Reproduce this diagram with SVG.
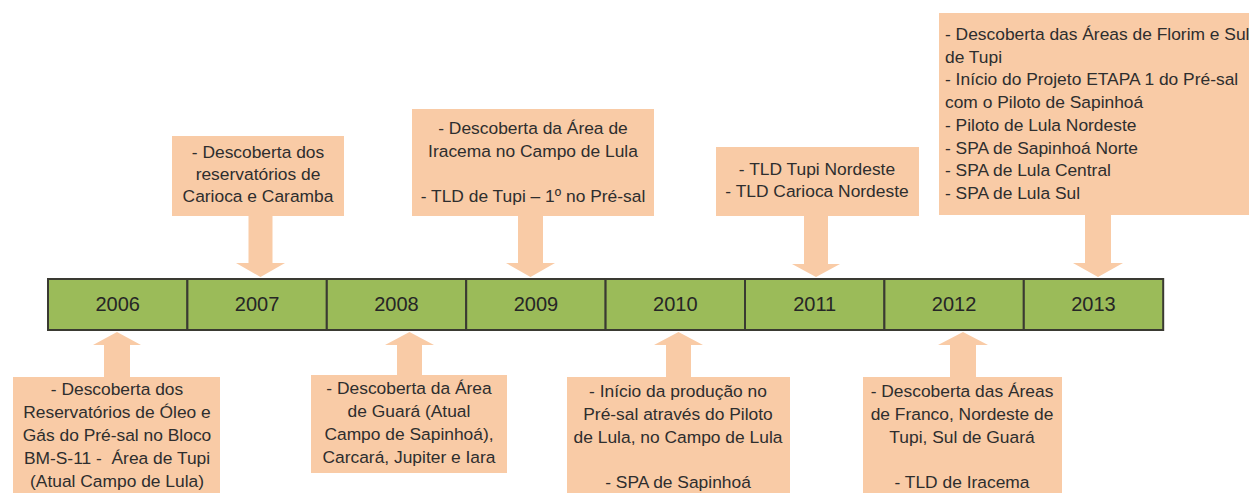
<svg xmlns="http://www.w3.org/2000/svg" width="1249" height="493" viewBox="0 0 1249 493">
<style>
.box{fill:#F9CBA6;}
.arr{fill:#F9CBA6;}
.cell{fill:#9BBB59;stroke:#3a3a32;stroke-width:2;}
.yr{font-family:"Liberation Sans",Arial,sans-serif;font-size:20px;fill:#262626;text-anchor:middle;}
.t{font-family:"Liberation Sans",Arial,sans-serif;font-size:17.4px;fill:#2e2e2e;text-anchor:middle;}
.tl{font-family:"Liberation Sans",Arial,sans-serif;font-size:17.4px;fill:#2e2e2e;text-anchor:start;}
</style>
<rect width="1249" height="493" fill="#ffffff"/>
<g id="connectors">
<path class="arr" d="M248.5,215 H272.5 V263 H285 L260.5,277 L236,263 H248.5 Z"/>
<path class="arr" d="M518,215 H543 V263 H555 L530.5,277 L506,263 H518 Z"/>
<path class="arr" d="M804,215 H828 V264 H840 L816,277 L792,264 H804 Z"/>
<path class="arr" d="M1085,214 H1111 V263 H1123 L1098,277 L1073,263 H1085 Z"/>
<path class="arr" d="M104,378 H130 V345 H141 L117,332 L93,345 H104 Z"/>
<path class="arr" d="M397,376 H422 V345 H434 L409.5,332 L385,345 H397 Z"/>
<path class="arr" d="M666,378 H691 V345 H703 L678.5,332 L654,345 H666 Z"/>
<path class="arr" d="M950,378 H976 V345 H988 L963,332 L938,345 H950 Z"/>
</g>
<g id="timeline">
<rect class="cell" x="48" y="279" width="139.4" height="51"/>
<rect class="cell" x="187.4" y="279" width="139.4" height="51"/>
<rect class="cell" x="326.8" y="279" width="139.4" height="51"/>
<rect class="cell" x="466.2" y="279" width="139.4" height="51"/>
<rect class="cell" x="605.6" y="279" width="139.4" height="51"/>
<rect class="cell" x="745" y="279" width="139.4" height="51"/>
<rect class="cell" x="884.4" y="279" width="139.4" height="51"/>
<rect class="cell" x="1023.8" y="279" width="139.4" height="51"/>
<text class="yr" x="117.7" y="311">2006</text>
<text class="yr" x="257.1" y="311">2007</text>
<text class="yr" x="396.5" y="311">2008</text>
<text class="yr" x="535.9" y="311">2009</text>
<text class="yr" x="675.3" y="311">2010</text>
<text class="yr" x="814.7" y="311">2011</text>
<text class="yr" x="954.1" y="311">2012</text>
<text class="yr" x="1093.5" y="311">2013</text>
</g>
<g id="n2006">
<rect class="box" x="13" y="377" width="207" height="120"/>
<text class="t" x="117" y="395">- Descoberta dos</text>
<text class="t" x="117" y="418">Reservatórios de Óleo e</text>
<text class="t" x="117" y="441">Gás do Pré-sal no Bloco</text>
<text class="t" x="117" y="464" xml:space="preserve">BM-S-11 -  Área de Tupi</text>
<text class="t" x="117" y="487">(Atual Campo de Lula)</text>
</g>
<g id="n2007">
<rect class="box" x="172" y="136" width="172" height="80"/>
<text class="t" x="258" y="158">- Descoberta dos</text>
<text class="t" x="258" y="180">reservatórios de</text>
<text class="t" x="258" y="202">Carioca e Caramba</text>
</g>
<g id="n2008">
<rect class="box" x="311" y="375" width="196" height="98"/>
<text class="t" x="409" y="394">- Descoberta da Área</text>
<text class="t" x="409" y="417">de Guará (Atual</text>
<text class="t" x="409" y="440">Campo de Sapinhoá),</text>
<text class="t" x="409" y="463">Carcará, Jupiter e Iara</text>
</g>
<g id="n2009">
<rect class="box" x="412" y="109" width="242" height="107"/>
<text class="t" x="533" y="134">- Descoberta da Área de</text>
<text class="t" x="533" y="157">Iracema no Campo de Lula</text>
<text class="t" x="533" y="202">- TLD de Tupi – 1º no Pré-sal</text>
</g>
<g id="n2010">
<rect class="box" x="567" y="377" width="223" height="120"/>
<text class="t" x="678" y="397">- Início da produção no</text>
<text class="t" x="678" y="420">Pré-sal através do Piloto</text>
<text class="t" x="678" y="443">de Lula, no Campo de Lula</text>
<text class="t" x="678" y="488">- SPA de Sapinhoá</text>
</g>
<g id="n2011">
<rect class="box" x="716" y="147" width="203" height="69"/>
<text class="t" x="817" y="175">- TLD Tupi Nordeste</text>
<text class="t" x="817" y="197">- TLD Carioca Nordeste</text>
</g>
<g id="n2012">
<rect class="box" x="863" y="377" width="199" height="120"/>
<text class="t" x="962" y="397">- Descoberta das Áreas</text>
<text class="t" x="962" y="420">de Franco, Nordeste de</text>
<text class="t" x="962" y="443">Tupi, Sul de Guará</text>
<text class="t" x="962" y="488">- TLD de Iracema</text>
</g>
<g id="n2013">
<rect class="box" x="939" y="13" width="320" height="202"/>
<text class="tl" x="945" y="40">- Descoberta das Áreas de Florim e Sul</text>
<text class="tl" x="945" y="62.7">de Tupi</text>
<text class="tl" x="945" y="85.4">- Início do Projeto ETAPA 1 do Pré-sal</text>
<text class="tl" x="945" y="108.1">com o Piloto de Sapinhoá</text>
<text class="tl" x="945" y="130.8">- Piloto de Lula Nordeste</text>
<text class="tl" x="945" y="153.5">- SPA de Sapinhoá Norte</text>
<text class="tl" x="945" y="176.2">- SPA de Lula Central</text>
<text class="tl" x="945" y="198.9">- SPA de Lula Sul</text>
</g>
</svg>
